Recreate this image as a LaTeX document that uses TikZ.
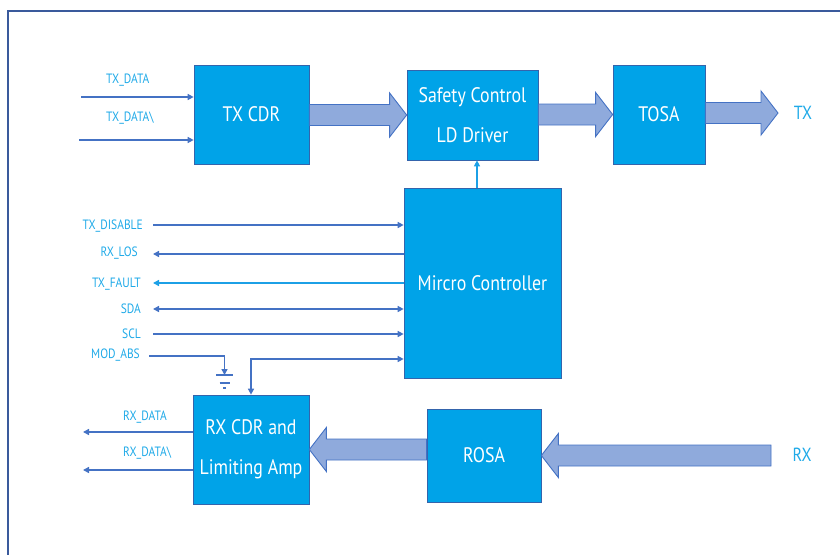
\documentclass[tikz,border=0pt]{standalone}
\usepackage{fontspec}
\setmainfont[FakeStretch=0.85]{PT Sans}
\usetikzlibrary{arrows.meta,calc}

\definecolor{boxblue}{RGB}{0,163,232}
\definecolor{edgeblue}{RGB}{52,100,172}
\definecolor{sigblue}{RGB}{68,114,196}
\definecolor{litblue}{RGB}{28,160,230}
\definecolor{txtblue}{RGB}{32,170,232}
\definecolor{fatfill}{RGB}{143,170,220}
\definecolor{framecol}{RGB}{58,90,156}

\tikzset{
  x=1pt, y=1pt,
  >={Triangle[length=6pt,width=6pt]},
  block/.style={draw=edgeblue, line width=0.7pt, fill=boxblue, text=white,
    font=\fontsize{21}{40}\selectfont, align=center, inner sep=0pt},
  sig/.style={draw=sigblue, line width=1.8pt},
  pin/.style={text=txtblue, font=\fontsize{13.5}{15}\selectfont, inner sep=0pt},
  port/.style={text=txtblue, font=\fontsize{19}{21}\selectfont, inner sep=0pt},
  fatarr/.style={draw=sigblue, line width=0.9pt, fill=fatfill},
}

% wide block arrow: #1 tail, #2 tip, #3 direction (1 right, -1 left)
\newcommand{\fatarrow}[3]{%
  \draw[fatarr] let \p1=(#1), \p2=(#2) in
    (\x1,{\y2+10.5pt}) -- ({\x2-(#3)*17pt},{\y2+10.5pt}) -- ({\x2-(#3)*17pt},{\y2+22pt})
    -- (\x2,\y2) -- ({\x2-(#3)*17pt},{\y2-22pt}) -- ({\x2-(#3)*17pt},{\y2-10.5pt})
    -- (\x1,{\y2-10.5pt}) -- cycle;}

\begin{document}
\begin{tikzpicture}
    \useasboundingbox (0,0) rectangle (840,-554);
    \draw[framecol, line width=2.5pt] (8,-600) -- (8,-11) -- (900,-11);

    % blocks
    \node[block, minimum width=115pt, minimum height=99pt] (txcdr) at (251.5,-114.5) {TX CDR};
    \node[block, minimum width=131pt, minimum height=90pt] (safety) at (472.5,-115) {Safety Control\\LD Driver};
    \node[block, minimum width=92pt, minimum height=99pt] (tosa) at (659,-114.5) {TOSA};
    \node[block, minimum width=157pt, minimum height=190pt] (mcu) at (482.5,-283) {Mircro Controller};
    \node[block, minimum width=116pt, minimum height=109pt] (rxcdr) at (251,-449.5) {RX CDR and\\Limiting Amp};
    \node[block, minimum width=114pt, minimum height=93pt] (rosa) at (484,-455.5) {ROSA};

    \node[port] (tx) at (803,-113) {TX};
    \node[port] (rx) at (802,-455) {RX};
    \coordinate (txend) at (778,-113);
    \coordinate (rxstart) at (771,-455);

    % data path
    \fatarrow{txcdr.east}{safety.west}{1}
    \fatarrow{safety.east}{tosa.west}{1}
    \fatarrow{tosa.east}{txend}{1}
    \fatarrow{rxstart}{rosa.east}{-1}
    \fatarrow{rosa.west}{rxcdr.east}{-1}

    % tx inputs
    \node[pin, anchor=west] (txd) at (106,-80) {TX\_DATA};
    \node[pin, anchor=west] (txdn) at (106,-118) {TX\_DATA\textbackslash};
    \coordinate (txdin) at (81,-97);
    \coordinate (txdnin) at (79,-140);
    \draw[sig,->] (txdin) -- (txdin -| txcdr.west);
    \draw[sig,->] (txdnin) -- (txdnin -| txcdr.west);

    % control pins
    \node[pin, anchor=east] (dis) at (143,-226) {TX\_DISABLE};
    \node[pin, anchor=east] (los) at (138,-253) {RX\_LOS};
    \node[pin, anchor=east] (flt) at (141,-284) {TX\_FAULT};
    \node[pin, anchor=east] (sda) at (141,-309) {SDA};
    \node[pin, anchor=east] (scl) at (141,-334) {SCL};
    \node[pin, anchor=east] (abs) at (140,-355) {MOD\_ABS};
    \coordinate (disin) at (153,-225);
    \coordinate (losin) at (153,-254);
    \coordinate (fltin) at (153,-283);
    \coordinate (sdain) at (153,-309);
    \coordinate (sclin) at (153,-334);
    \coordinate (absin) at (149,-356);
    \draw[sig,->] (disin) -- (disin -| mcu.west);
    \draw[sig,<-] (losin) -- (losin -| mcu.west);
    \draw[sig,draw=litblue,<-] (fltin) -- (fltin -| mcu.west);
    \draw[sig,<->] (sdain) -- (sdain -| mcu.west);
    \draw[sig,->] (sclin) -- (sclin -| mcu.west);

    % ground
    \coordinate (gnd) at (224.5,-375);
    \draw[sig,->] (absin) -| (gnd);
    \foreach \w/\d in {8.5/0, 5/8, 1.5/13}
      \draw[sig] ($(gnd)+(-\w,-\d)$) -- ($(gnd)+(\w,-\d)$);

    % link to rx
    \coordinate (lnk) at (251,-359);
    \draw[sig,<->] (rxcdr.north) |- (mcu.west |- lnk);

    % control to driver
    \coordinate (ctl) at (477,-188);
    \draw[draw=litblue, line width=1.3pt, ->] (ctl) -- (ctl |- safety.south);

    % rx outputs
    \node[pin, anchor=west] (rxd) at (123,-417) {RX\_DATA};
    \node[pin, anchor=west] (rxdn) at (123,-453) {RX\_DATA\textbackslash};
    \coordinate (rxdout) at (83,-432);
    \coordinate (rxdnout) at (83,-470);
    \draw[sig,->] (rxdout -| rxcdr.west) -- (rxdout);
    \draw[sig,->] (rxdnout -| rxcdr.west) -- (rxdnout);
\end{tikzpicture}
\end{document}
